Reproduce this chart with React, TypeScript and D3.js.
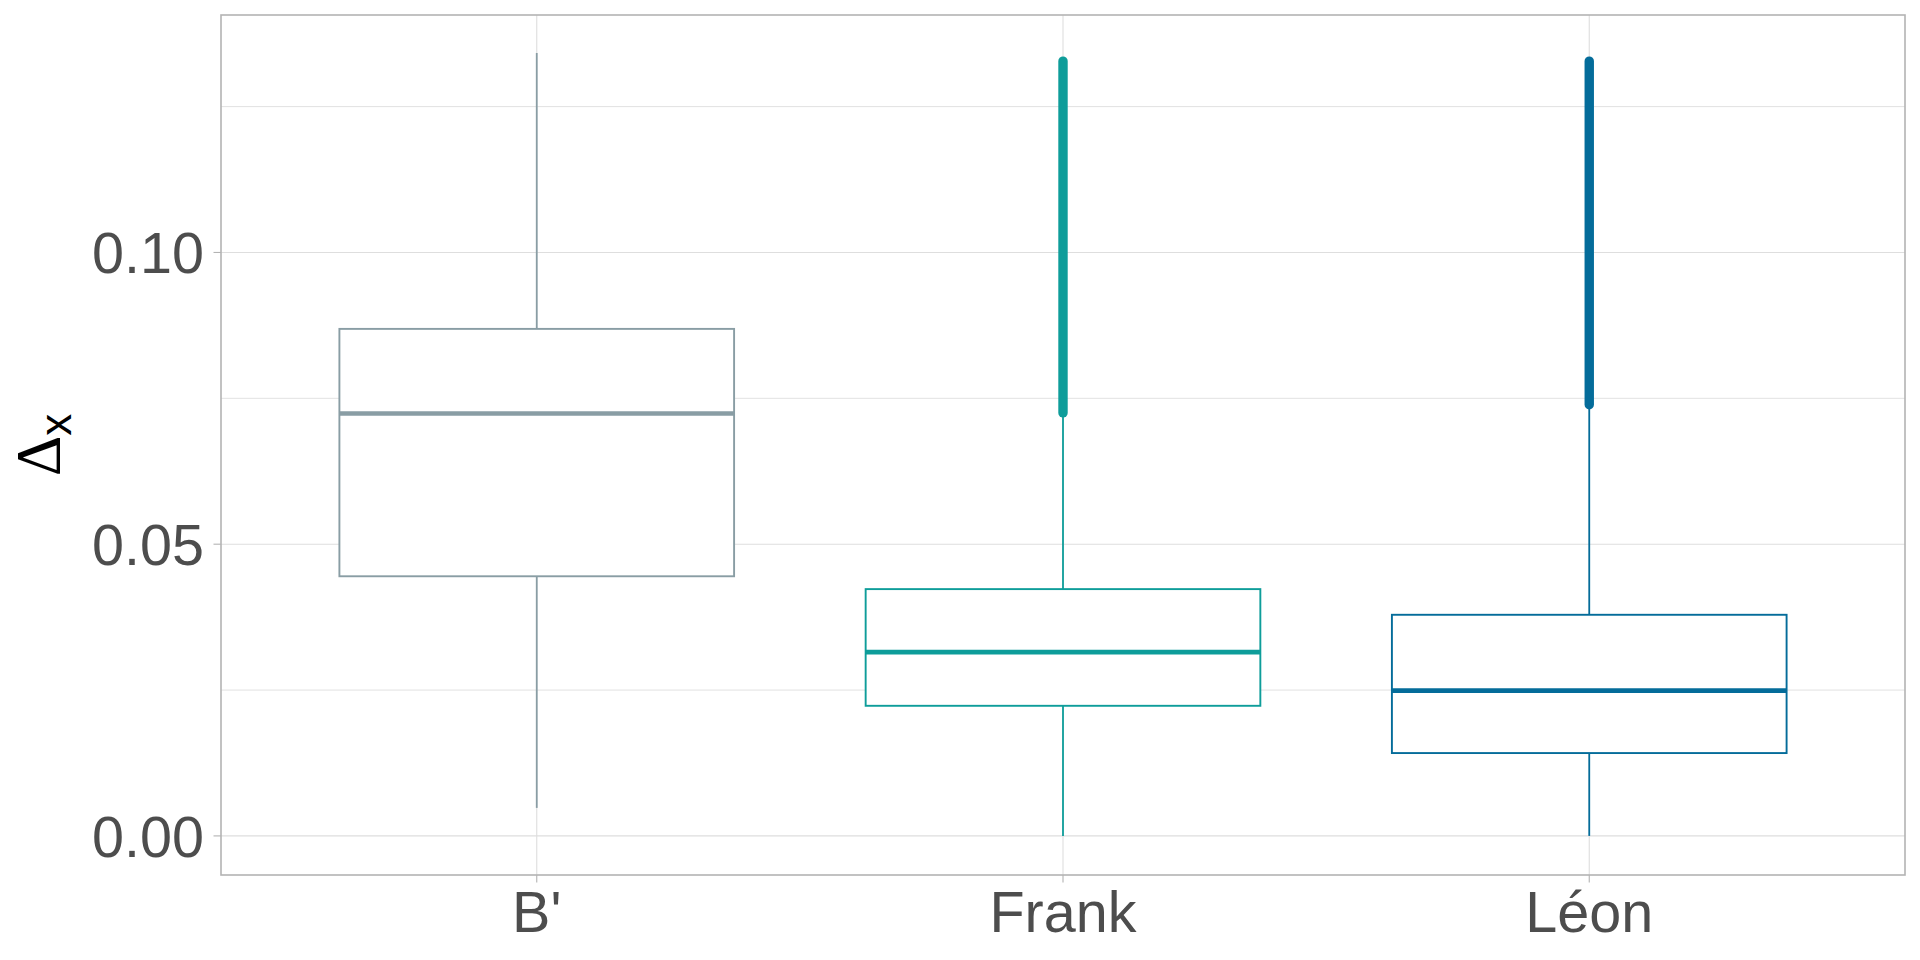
import React from "react";
import * as d3 from "d3";

const categories = ["B'", "Frank", "Léon"];
const q1Values = [0.0445, 0.0223, 0.0142];
const medianValues = [0.0724, 0.0315, 0.0249];
const q3Values = [0.0869, 0.0423, 0.0379];
const whiskerLow = [0.0048, 0.0, 0.0];
const whiskerHigh = [0.1342, 0.0723, 0.0735];
const outlierMin: (number | null)[] = [null, 0.0725, 0.0739];
const outlierMax: (number | null)[] = [null, 0.1328, 0.1328];
const boxColors = ["#899DA4", "#0E9D9A", "#046C9A"];
const majorTicks = [0.0, 0.05, 0.1];
const minorTicks = [0.025, 0.075, 0.125];
const tickLabels = ["0.00", "0.05", "0.10"];

const W = 1920;
const H = 960;
const panel = { left: 221, right: 1905, top: 15, bottom: 875 };

export default function App() {
  const x = d3
    .scalePoint<string>()
    .domain(categories)
    .range([panel.left, panel.right])
    .padding(0.6);
  const step = x.step();
  const boxW = step * 0.75;
  const y = d3
    .scaleLinear()
    .domain([-0.0067, 0.1407])
    .range([panel.bottom, panel.top]);

  const gridColor = "#DEDEDE";
  const textColor = "#4D4D4D";
  const borderColor = "#B3B3B3";

  return (
    <svg
      width={W}
      height={H}
      style={{ position: "absolute", left: 0, top: 0, display: "block" }}
    >
      <rect x={0} y={0} width={W} height={H} fill="#ffffff" />
      {/* grid */}
      {minorTicks.map((t) => (
        <line
          key={"mn" + t}
          x1={panel.left}
          x2={panel.right}
          y1={y(t)}
          y2={y(t)}
          stroke={gridColor}
          strokeWidth={0.9}
        />
      ))}
      {majorTicks.map((t) => (
        <line
          key={"mj" + t}
          x1={panel.left}
          x2={panel.right}
          y1={y(t)}
          y2={y(t)}
          stroke={gridColor}
          strokeWidth={1.1}
        />
      ))}
      {categories.map((c) => (
        <line
          key={"vg" + c}
          x1={x(c)}
          x2={x(c)}
          y1={panel.top}
          y2={panel.bottom}
          stroke={gridColor}
          strokeWidth={1.1}
        />
      ))}
      {/* boxes */}
      {categories.map((c, i) => {
        const cx = x(c) as number;
        const col = boxColors[i];
        const lo = outlierMin[i];
        const hi = outlierMax[i];
        return (
          <g key={"box" + c}>
            <line
              x1={cx}
              x2={cx}
              y1={y(q3Values[i])}
              y2={y(whiskerHigh[i])}
              stroke={col}
              strokeWidth={1.8}
            />
            <line
              x1={cx}
              x2={cx}
              y1={y(q1Values[i])}
              y2={y(whiskerLow[i])}
              stroke={col}
              strokeWidth={1.8}
            />
            <rect
              x={cx - boxW / 2}
              y={y(q3Values[i])}
              width={boxW}
              height={y(q1Values[i]) - y(q3Values[i])}
              fill="#ffffff"
              stroke={col}
              strokeWidth={1.9}
            />
            <line
              x1={cx - boxW / 2}
              x2={cx + boxW / 2}
              y1={y(medianValues[i])}
              y2={y(medianValues[i])}
              stroke={col}
              strokeWidth={4.6}
            />
            {lo !== null && hi !== null && (
              <line
                x1={cx}
                x2={cx}
                y1={y(lo)}
                y2={y(hi)}
                stroke={col}
                strokeWidth={9.4}
                strokeLinecap="round"
              />
            )}
          </g>
        );
      })}
      {/* panel border */}
      <rect
        x={panel.left}
        y={panel.top}
        width={panel.right - panel.left}
        height={panel.bottom - panel.top}
        fill="none"
        stroke={borderColor}
        strokeWidth={1.6}
      />
      {/* y axis ticks */}
      {majorTicks.map((t, i) => (
        <g key={"yt" + t}>
          <line
            x1={panel.left - 7.5}
            x2={panel.left}
            y1={y(t)}
            y2={y(t)}
            stroke={borderColor}
            strokeWidth={1.1}
          />
          <text
            x={204}
            y={y(t)}
            dy="0.36em"
            textAnchor="end"
            fontFamily="'Liberation Sans', Arial, sans-serif"
            fontSize={57.5}
            fill={textColor}
          >
            {tickLabels[i]}
          </text>
        </g>
      ))}
      {/* x axis ticks */}
      {categories.map((c) => (
        <g key={"xt" + c}>
          <line
            x1={x(c)}
            x2={x(c)}
            y1={panel.bottom}
            y2={panel.bottom + 7.5}
            stroke={borderColor}
            strokeWidth={1.1}
          />
          <text
            x={x(c)}
            y={932}
            textAnchor="middle"
            fontFamily="'Liberation Sans', Arial, sans-serif"
            fontSize={57.5}
            fill={textColor}
          >
            {c}
          </text>
        </g>
      ))}
      {/* y title */}
      <g transform={`translate(59.5, ${(panel.top + panel.bottom) / 2}) rotate(-90)`}>
        <text textAnchor="middle" fill="#000000">
          <tspan fontFamily="'Liberation Serif', 'Times New Roman', serif" fontSize={63}>
            Δ
          </tspan>
          <tspan
            fontFamily="'Liberation Sans', Arial, sans-serif"
            fontSize={44}
            dy={11.5}
          >
            x
          </tspan>
        </text>
      </g>
    </svg>
  );
}
